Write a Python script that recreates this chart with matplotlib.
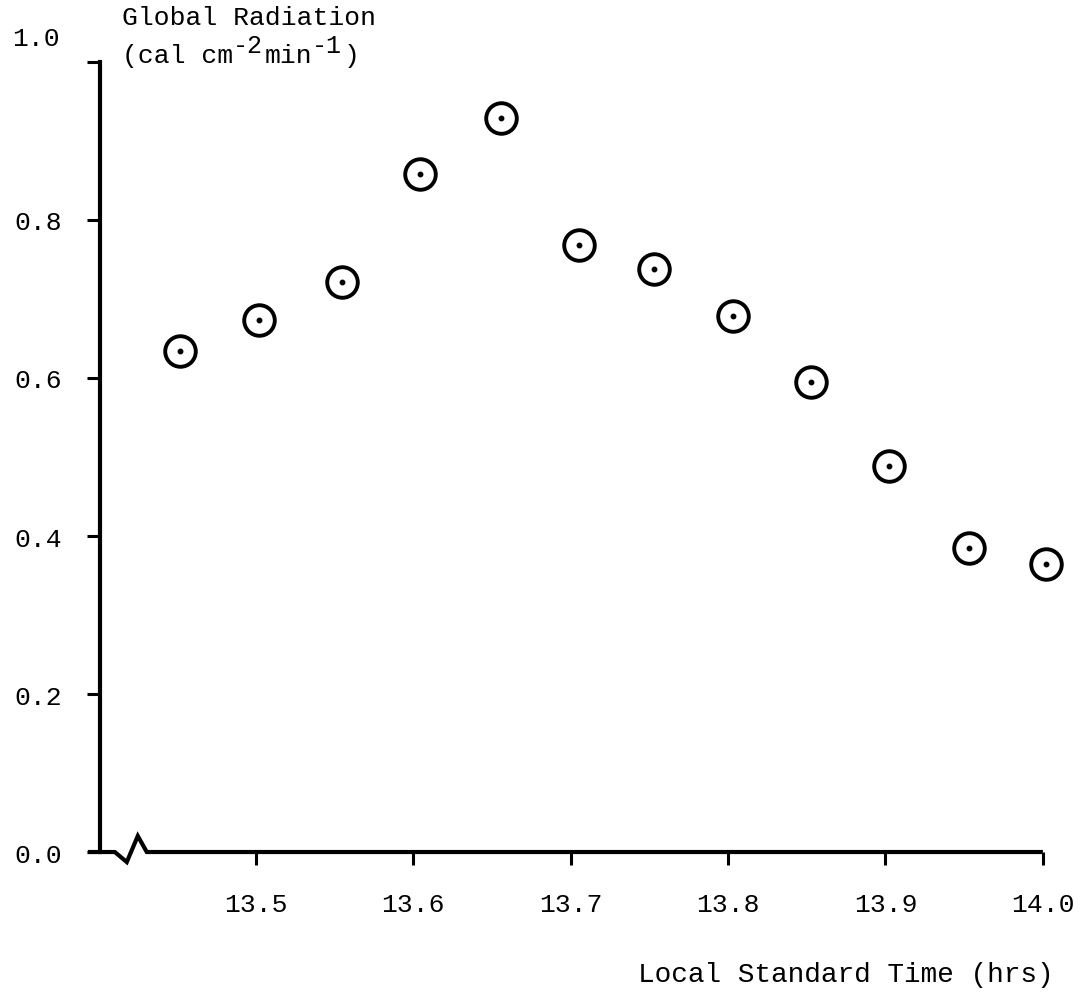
import matplotlib
matplotlib.use("Agg")
import matplotlib.pyplot as plt
from matplotlib.transforms import ScaledTranslation

# readings (local standard time in hrs, cal cm-2 min-1)
times = [13.452, 13.502, 13.555, 13.604, 13.656, 13.705,
         13.753, 13.803, 13.853, 13.902, 13.953, 14.002]
radiation = [0.634, 0.673, 0.721, 0.858, 0.929, 0.768,
             0.738, 0.679, 0.595, 0.489, 0.385, 0.364]

xticks = [13.5, 13.6, 13.7, 13.8, 13.9, 14.0]
yticks = [0.0, 0.2, 0.4, 0.6, 0.8, 1.0]

font = "Liberation Mono"
fs = 19
plt.rcParams["font.family"] = font

fig = plt.figure(figsize=(10.79, 9.95), dpi=100)
ax = fig.add_axes([0.0927, 0.1427, 0.903, 0.794])

x0, x1 = 13.401, 14.02
ax.set_xlim(x0, x1)
ax.set_ylim(0.0, 1.0)

# data points: open circle with a dot in the middle
ax.plot(times, radiation, linestyle="none", marker="o", markersize=22,
        markerfacecolor="none", markeredgecolor="black", markeredgewidth=2.8,
        clip_on=False)
ax.plot(times, radiation, linestyle="none", marker="o", markersize=3.2,
        color="black", clip_on=False)

# axes lines
for s in ["top", "right", "bottom"]:
    ax.spines[s].set_visible(False)
ax.spines["left"].set_linewidth(3.0)
ax.spines["left"].set_bounds(0.0, 1.0)

# x axis with a break squiggle near the origin
bx = [13.3933, 13.4104, 13.4180, 13.4250, 13.4307, 14.0]
by = [0.0, 0.0, -0.0127, 0.0203, 0.0, 0.0]
ax.plot(bx, by, color="black", linewidth=3.0, clip_on=False,
        solid_joinstyle="miter", solid_capstyle="butt")

ax.set_xticks(xticks)
ax.set_xticklabels([f"{t:.1f}" for t in xticks])
ax.set_yticks(yticks)
ax.set_yticklabels([f"{t:.1f}" for t in yticks[:-1]] + [""])
ax.tick_params(axis="x", direction="out", length=9, width=2.2, pad=20,
               labelsize=fs)
ax.tick_params(axis="y", direction="out", length=9.5, width=2.2, pad=18,
               labelsize=fs)

# the 1.0 label sits above its tick
ax.annotate("1.0", xy=(0, 1), xycoords="axes fraction", xytext=(-29, 17),
            textcoords="offset points", ha="right", va="center", fontsize=fs)

# axis titles
fig.text(122 / 1079, 1 - 18 / 995, "Global Radiation", ha="left",
         va="center", fontsize=fs)

# units line typed with raised exponents, one piece at a time
cw = 0.6 * fs  # monospace advance in points
pieces = [("(cal cm", 0, 0), ("-2", 7, 1), ("min", 9, 0), ("-1", 12, 1),
          (")", 14, 0)]
for txt, col, up in pieces:
    tr = fig.transFigure + ScaledTranslation(col * cw / 72, up * 7 / 72,
                                             fig.dpi_scale_trans)
    fig.text(122 / 1079, 1 - 56 / 995, txt, ha="left", va="center",
             fontsize=fs if not up else 18, transform=tr)

fig.text(1054 / 1079, 1 - 975 / 995, "Local Standard Time (hrs)",
         ha="right", va="center", fontsize=20)

fig.savefig("out.png", dpi=100)
